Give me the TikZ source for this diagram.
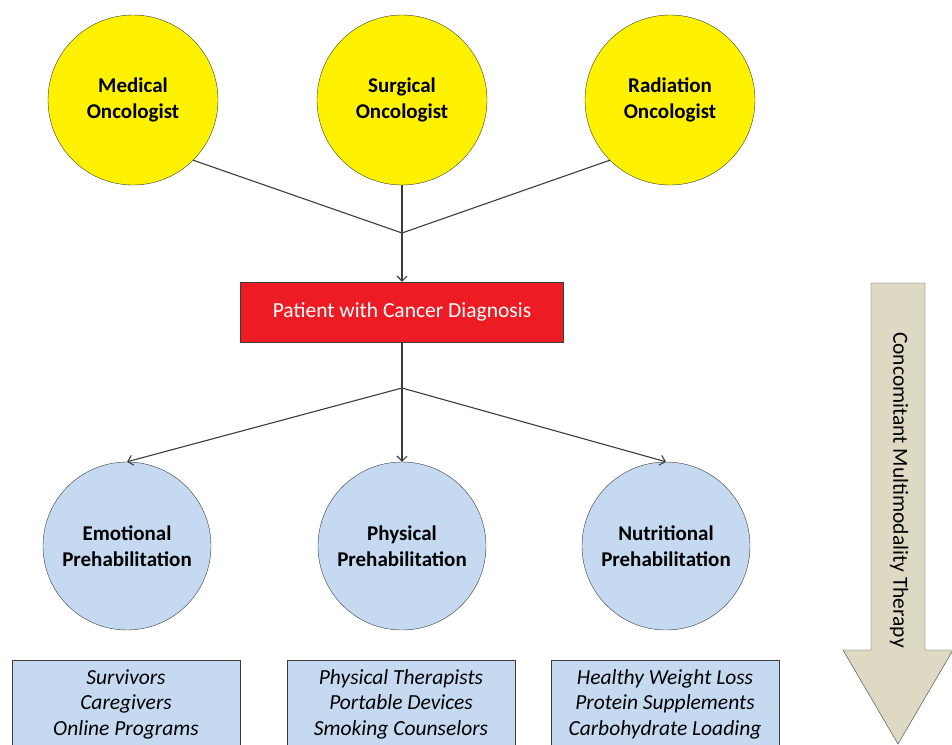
\documentclass[tikz,border=0pt]{standalone}
\usepackage{fontspec}
\usetikzlibrary{arrows.meta}
\setmainfont{Carlito}
\definecolor{oncoyellow}{RGB}{255,242,0}
\definecolor{prehabblue}{RGB}{197,217,241}
\definecolor{diagred}{RGB}{237,28,36}
\definecolor{therapytan}{RGB}{221,217,195}
\definecolor{edgegray}{RGB}{60,60,60}
\tikzset{
    oncologist/.style={circle, draw=edgegray, fill=oncoyellow, minimum size=170pt, inner sep=0pt,
        align=center, font=\fontsize{21}{26}\selectfont\bfseries},
    prehab/.style={circle, draw=edgegray, fill=prehabblue, minimum size=168pt, inner sep=0pt,
        align=center, font=\fontsize{21}{26}\selectfont\bfseries},
    diagnosis/.style={rectangle, draw=edgegray, fill=diagred, text=white, minimum width=323pt,
        minimum height=60pt, font=\fontsize{21.5}{24}\selectfont},
    support/.style={rectangle, draw=edgegray, fill=prehabblue, minimum width=228pt,
        minimum height=88pt, align=center, font=\fontsize{21.5}{25.5}\selectfont\itshape},
    link/.style={draw=edgegray, line width=1.1pt, >={Straight Barb[length=5pt, width=10pt]}}
}
\begin{document}
\begin{tikzpicture}[x=1pt, y=-1pt]
    \useasboundingbox (0, 0) rectangle (952, 744);
    \clip (0, 0) rectangle (952, 744);
    % specialists
    \node[oncologist] (med) at (133, 100) {Medical\\Oncologist};
    \node[oncologist] (sur) at (402, 100) {Surgical\\Oncologist};
    \node[oncologist] (rad) at (670, 100) {Radiation\\Oncologist};
    \coordinate (join) at (402, 233);
    \node[diagnosis] (pat) at (402, 312) {Patient with Cancer Diagnosis};
    \coordinate (split) at (402, 388);
    % prehabilitation
    \node[prehab] (emo) at (127, 546) {Emotional\\Prehabilitation};
    \node[prehab] (phy) at (402, 546) {Physical\\Prehabilitation};
    \node[prehab] (nut) at (666, 546) {Nutritional\\Prehabilitation};
    \node[support] (emolist) at (126, 704) {Survivors\\Caregivers\\Online Programs};
    \node[support] (phylist) at (401, 704) {Physical Therapists\\Portable Devices\\Smoking Counselors};
    \node[support] (nutlist) at (665, 704) {Healthy Weight Loss\\Protein Supplements\\Carbohydrate Loading};
    % connectors
    \draw[link] (med.-45) -- (join);
    \draw[link] (sur.south) -- (join);
    \draw[link] (rad.-135) -- (join);
    \draw[link, ->] (join) -- (pat.north);
    \draw[link] (pat.south) -- (split);
    \foreach \t in {emo, phy, nut}
        \draw[link, ->] (split) -- (\t.north);
    % therapy arrow
    \filldraw[fill=therapytan, draw=edgegray] (871, 283) -- (925, 283) -- (925, 650) -- (953, 650)
        -- (898, 744) -- (843, 650) -- (871, 650) -- cycle;
    \node[rotate=-90, font=\fontsize{21.5}{24}\selectfont] (therapy) at (899, 490) {Concomitant Multimodality Therapy};
\end{tikzpicture}
\end{document}
